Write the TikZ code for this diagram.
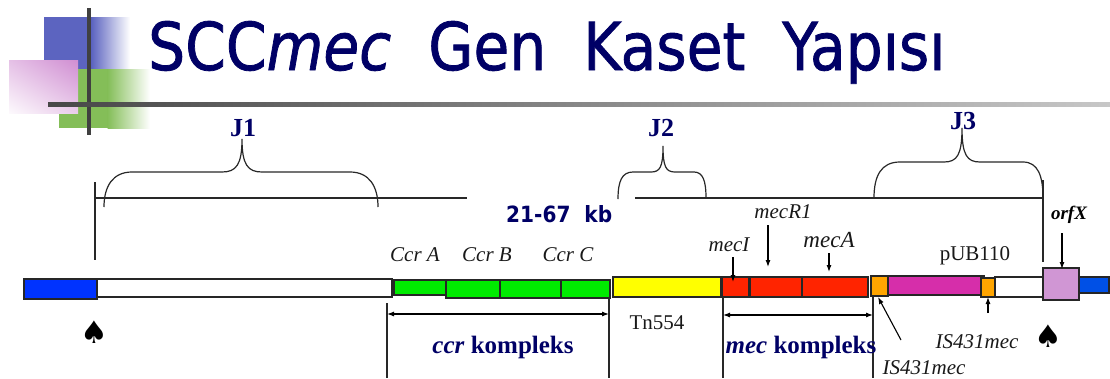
\documentclass[tikz,border=0pt]{standalone}
\usepackage{fontspec}
\setmainfont{Liberation Serif}
\newfontfamily\titlefont[FakeBold=1.2]{DejaVu Sans}
\newfontfamily\kbfont{DejaVu Sans}
\newfontfamily\symfont{DejaVu Sans}
\usetikzlibrary{arrows.meta,shadings}
\definecolor{navy}{RGB}{0,0,102}
\definecolor{decoblue}{RGB}{92,100,192}
\definecolor{decogreen}{RGB}{132,190,88}
\definecolor{decopink}{RGB}{208,142,210}
\definecolor{decoline}{RGB}{64,64,64}
\definecolor{barblue}{RGB}{0,51,255}
\definecolor{barbluetwo}{RGB}{0,80,230}
\definecolor{ggreen}{RGB}{0,235,0}
\definecolor{yyellow}{RGB}{255,255,0}
\definecolor{rred}{RGB}{255,36,0}
\definecolor{oorange}{RGB}{255,165,0}
\definecolor{mmag}{RGB}{214,46,170}
\definecolor{lilac}{RGB}{208,150,212}
\definecolor{ink}{RGB}{40,40,40}
\newcommand\segbox[6]{\node[seg, fill=#6, minimum width={#4-#2}, minimum height={#5-#3}] (#1) at ({(#2+#4)/2},{(#3+#5)/2}) {};}
\begin{document}
\begin{tikzpicture}[x=1pt,y=-1pt,
  seg/.style={draw=black!85, line width=1.3pt, inner sep=0pt, outer sep=0pt},
  thinline/.style={draw=ink, line width=1.1pt},
  bracestyle/.style={draw=ink, line width=1.2pt},
  arr/.style={draw=black, line width=1.1pt, -{Latex[length=7pt,width=5pt]}},
  dimarr/.style={draw=black, line width=1.1pt, {Latex[length=7pt,width=5pt]}-{Latex[length=7pt,width=5pt]}},
  lab/.style={inner sep=0pt, text=black!90, font=\fontsize{21}{21}\selectfont},
  ilab/.style={lab, font=\fontsize{21}{21}\selectfont\itshape},
  jlab/.style={inner sep=0pt, text=navy, font=\fontsize{26}{26}\selectfont\bfseries},
  klab/.style={inner sep=0pt, text=navy, font=\fontsize{25}{25}\selectfont\bfseries},
  spade/.style={inner sep=0pt, font=\symfont\fontsize{31}{31}\selectfont}]
\useasboundingbox (0,0) rectangle (1110,378);
\fill[white] (0,0) rectangle (1110,378);
% decoration
\fill[decoblue] (44,17) rectangle (92,69);
\shade[left color=decoblue, right color=white] (91.5,17) rectangle (130,69);
\fill[decogreen] (59,69) rectangle (108,128);
\shade[left color=decogreen, right color=white] (107.5,69) rectangle (150,128);
\shade[upper right=decopink, upper left=decopink!55, lower left=decopink!5, lower right=decopink!45] (9,60) rectangle (78,113);
\fill[decoline] (87,8) rectangle (91,135);
\shade[left color=black!72, right color=black!22] (48,102) rectangle (1110,106);
% title
\node[anchor=base west, inner sep=0pt, text=navy] (title) at (148,70)
  {\resizebox{797pt}{49pt}{\titlefont SCC\textit{mec}\ \ Gen\ \ Kaset\ \ Yapısı}};
% J labels and braces
\node[jlab] (J1) at (243,128) {J1};
\node[jlab] (J2) at (661,128) {J2};
\node[jlab] (J3) at (963,121) {J3};
\draw[bracestyle] (104,207) .. controls (104,186) and (113,172) .. (132,172) -- (222,172)
  .. controls (236,172) and (242,165) .. (242,139)
  .. controls (242,165) and (248,172) .. (262,172) -- (350,172)
  .. controls (369,172) and (378,186) .. (378,207);
\draw[bracestyle] (618,199) .. controls (618,181) and (622,172) .. (633,172) -- (651,172)
  .. controls (660,172) and (663,167) .. (663,146)
  .. controls (663,167) and (666,172) .. (675,172) -- (694,172)
  .. controls (703,172) and (706,181) .. (706,198);
\draw[bracestyle] (874,198) .. controls (874,176) and (881,162) .. (900,162) -- (944,162)
  .. controls (957,162) and (962,155) .. (962,128)
  .. controls (962,155) and (967,162) .. (980,162) -- (1023,162)
  .. controls (1038,162) and (1043,176) .. (1043,198);
% guide lines
\coordinate (gA) at (95,198); \coordinate (gB) at (467,198);
\coordinate (gC) at (635,198); \coordinate (gD) at (1043,198);
\coordinate (vA1) at (95,182); \coordinate (vA2) at (95,260);
\coordinate (vB1) at (1043,180); \coordinate (vB2) at (1043,262);
\draw[thinline] (gA) -- (gB);
\draw[thinline] (gC) -- (gD);
\draw[thinline] (vA1) -- (vA2);
\draw[thinline] (vB1) -- (vB2);
\node[anchor=base west, inner sep=0pt, text=navy] (kb) at (506,222)
  {\resizebox{106pt}{17pt}{\kbfont\bfseries 21-67\ \ kb}};
% bar
\segbox{blueL}{24}{279}{97}{299}{barblue}
\segbox{whiteL}{97}{279}{392}{297}{white}
\segbox{ccrA}{394}{280}{446}{295}{ggreen}
\segbox{ccrB}{446}{280}{500}{298}{ggreen}
\segbox{ccrBb}{500}{280}{561}{298}{ggreen}
\segbox{ccrC}{561}{280}{610}{298}{ggreen}
\segbox{tn}{613}{277}{721}{297}{yyellow}
\segbox{mecI}{722}{277}{749}{297}{rred}
\segbox{mecR}{750}{277}{802}{297}{rred}
\segbox{mecA}{802}{277}{868}{297}{rred}
\segbox{pub}{888}{276}{984}{295}{mmag}
\segbox{isA}{871}{276}{888}{296}{oorange}
\segbox{isB}{981}{278}{995}{297}{oorange}
\segbox{whiteR}{995}{277}{1043}{297}{white}
\segbox{orfx}{1043}{268}{1079}{300}{lilac}
\segbox{blueR}{1079}{277}{1109}{293}{barbluetwo}
% top labels
\node[ilab] (lccrA) at (415,255) {Ccr A};
\node[ilab] (lccrB) at (487,255) {Ccr B};
\node[ilab] (lccrC) at (568,255) {Ccr C};
\node[ilab] (lmecI) at (729,245) {mecI};
\node[ilab] (lmecR) at (783,212) {mecR1};
\node[ilab, font=\fontsize{23}{23}\selectfont\itshape] (lmecA) at (829,240) {mecA};
\node[lab] (lpub) at (975,256) {pUB110};
\node[inner sep=0pt, font=\fontsize{19}{19}\selectfont\bfseries\itshape] (lorfx) at (1069,215) {orfX};
% arrows top
\coordinate (aI1) at (733,257); \coordinate (aI2) at (733,282);
\coordinate (aR1) at (768,225); \coordinate (aR2) at (768,267);
\coordinate (aA1) at (829,253); \coordinate (aA2) at (829,272);
\coordinate (aO1) at (1062,233); \coordinate (aO2) at (1062,269);
\draw[arr] (aI1) -- (aI2);
\draw[arr] (aR1) -- (aR2);
\draw[arr] (aA1) -- (aA2);
\draw[arr] (aO1) -- (aO2);
% IS431mec
\node[ilab] (lisA) at (924,368) {IS431mec};
\node[ilab] (lisB) at (977,342) {IS431mec};
\coordinate (iA1) at (901,340); \coordinate (iA2) at (878,297);
\coordinate (iB1) at (988,313); \coordinate (iB2) at (988,297);
\draw[arr] (iA1) -- (iA2);
\draw[arr] (iB1) -- (iB2);
% spades
\node[spade] (spL) at (94,332) {♠};
\node[spade] (spR) at (1048,336) {♠};
% bottom dimension lines
\coordinate (d1) at (387,303); \coordinate (d1b) at (387,378);
\coordinate (d2) at (609,297); \coordinate (d2b) at (609,378);
\coordinate (d3) at (723,297); \coordinate (d3b) at (723,378);
\coordinate (d4) at (873,297); \coordinate (d4b) at (873,378);
\draw[thinline] (d1) -- (d1b);
\draw[thinline] (d2) -- (d2b);
\draw[thinline] (d3) -- (d3b);
\draw[thinline] (d4) -- (d4b);
\coordinate (h1) at (387,314); \coordinate (h2) at (609,314);
\coordinate (h3) at (723,315); \coordinate (h4) at (873,315);
\draw[dimarr] (h1) -- (h2);
\draw[dimarr] (h3) -- (h4);
\node[klab] (kccr) at (503,347) {\textit{ccr} kompleks};
\node[klab] (kmec) at (801,347) {\textit{mec} kompleks};
\node[lab] (ltn) at (657,323) {Tn554};
\end{tikzpicture}
\end{document}
